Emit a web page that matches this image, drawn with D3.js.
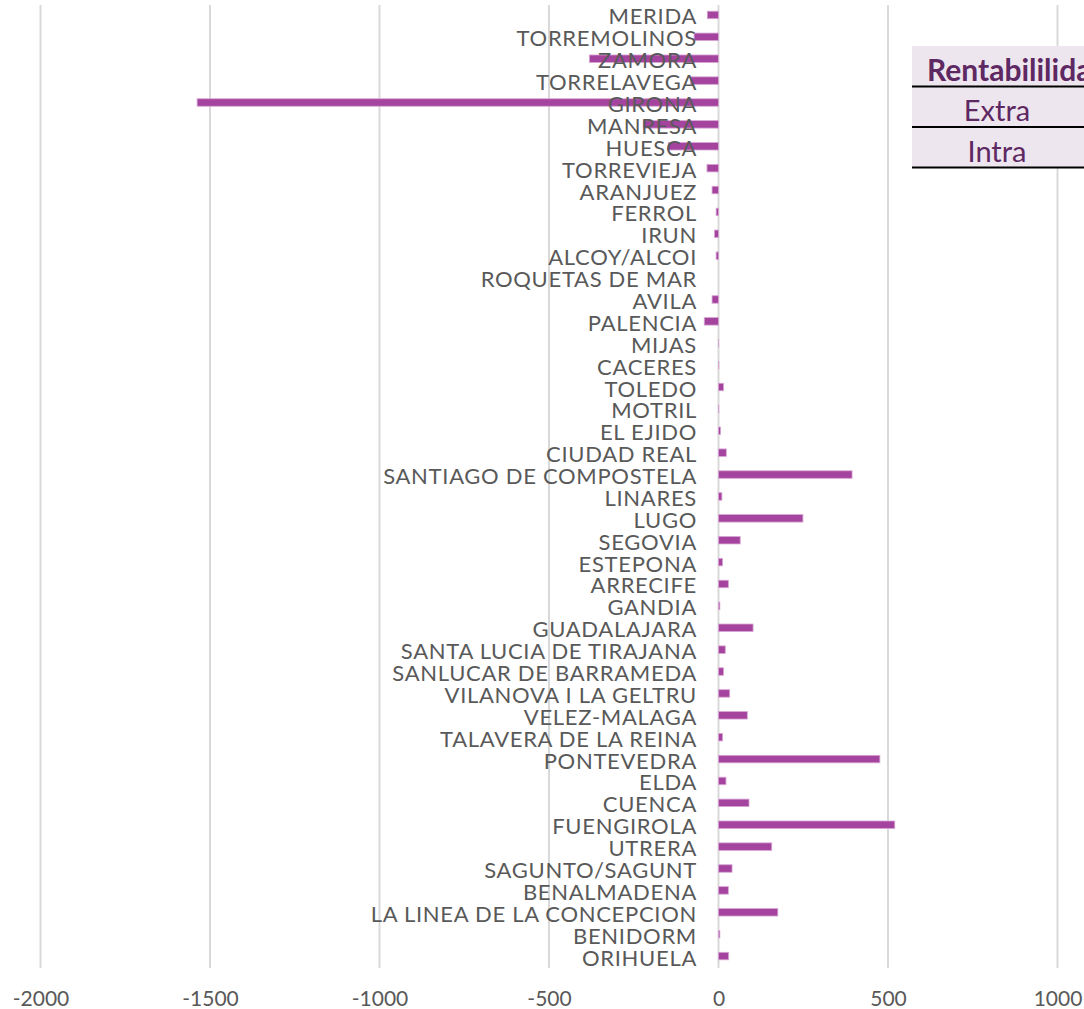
<!DOCTYPE html>
<html>
<head>
<meta charset="utf-8">
<script src="https://cdn.jsdelivr.net/npm/d3@7"></script>
<style>
  html, body { margin: 0; padding: 0; background: #fff; }
  svg { display: block; }
</style>
</head>
<body>
<svg id="chart" width="1084" height="1009"></svg>
<script>
// cities, top to bottom as they appear
const cities = [
  'MERIDA', 'TORREMOLINOS', 'ZAMORA', 'TORRELAVEGA', 'GIRONA', 'MANRESA', 'HUESCA',
  'TORREVIEJA', 'ARANJUEZ', 'FERROL', 'IRUN', 'ALCOY/ALCOI', 'ROQUETAS DE MAR', 'AVILA',
  'PALENCIA', 'MIJAS', 'CACERES', 'TOLEDO', 'MOTRIL', 'EL EJIDO', 'CIUDAD REAL',
  'SANTIAGO DE COMPOSTELA', 'LINARES', 'LUGO', 'SEGOVIA', 'ESTEPONA', 'ARRECIFE', 'GANDIA',
  'GUADALAJARA', 'SANTA LUCIA DE TIRAJANA', 'SANLUCAR DE BARRAMEDA', 'VILANOVA I LA GELTRU',
  'VELEZ-MALAGA', 'TALAVERA DE LA REINA', 'PONTEVEDRA', 'ELDA', 'CUENCA', 'FUENGIROLA',
  'UTRERA', 'SAGUNTO/SAGUNT', 'BENALMADENA', 'LA LINEA DE LA CONCEPCION', 'BENIDORM', 'ORIHUELA'
];

const values = [
  -33, -72, -381, -82, -1538, -222, -148,
  -34, -19, -7, -12, -7, 0, -19,
  -42, 0.5, 1, 15, 1, 6, 23,
  394, 10, 249, 64, 12, 29, 4,
  102, 20, 15, 33,
  85, 12, 476, 22, 90, 520,
  157, 40, 29, 175, 4, 30
];

const xTicks = [-2000, -1500, -1000, -500, 0, 500, 1000];

const legendTitle = 'Rentabililidad';
const legendRows = ['Extra', 'Intra'];

const FONT = 'Lato, "Open Sans", sans-serif';
const BAR = '#a5449f';

const svg = d3.select('#chart');

const plot = { top: 5, bottom: 968 };

const x = d3.scaleLinear()
  .domain([-2000, 1000])
  .range([40.5, 1057.5]);

const y = d3.scalePoint()
  .domain(cities)
  .range([plot.top, plot.bottom])
  .padding(0.5);

const barH = 7.5;

// gridlines
svg.append('g')
  .selectAll('line')
  .data(xTicks)
  .join('line')
  .attr('x1', d => x(d))
  .attr('x2', d => x(d))
  .attr('y1', plot.top)
  .attr('y2', plot.bottom)
  .attr('stroke', '#d9d9d9')
  .attr('stroke-width', 2);

// bars
svg.append('g')
  .selectAll('rect')
  .data(cities.map((c, i) => ({ city: c, value: values[i] })))
  .join('rect')
  .attr('x', d => x(Math.min(0, d.value)))
  .attr('y', d => y(d.city) - 1 - barH / 2)
  .attr('width', d => Math.abs(x(d.value) - x(0)))
  .attr('height', barH)
  .attr('fill', BAR)
  .attr('stroke', '#d8a6d4')
  .attr('stroke-width', 0.8);

// category labels, drawn over the bars
svg.append('g')
  .selectAll('text')
  .data(cities)
  .join('text')
  .attr('x', 697)
  .attr('y', d => y(d))
  .attr('text-anchor', 'end')
  .attr('dominant-baseline', 'central')
  .attr('font-family', FONT)
  .attr('font-size', 22)
  .attr('letter-spacing', 0.7)
  .attr('fill', '#595959')
  .text(d => d);

// x axis tick labels
const axis = d3.axisBottom(x).tickValues(xTicks).tickSize(0).tickPadding(0).tickFormat(d => String(d));
const gAxis = svg.append('g')
  .attr('transform', 'translate(0,991)')
  .call(axis);
gAxis.select('.domain').remove();
gAxis.selectAll('text')
  .attr('font-family', FONT)
  .attr('font-size', 21)
  .attr('fill', '#595959');

// legend table (runs off the right edge)
const lg = svg.append('g');
lg.append('rect')
  .attr('x', 912)
  .attr('y', 46)
  .attr('width', 200)
  .attr('height', 122)
  .attr('fill', '#ede6ee');

lg.append('text')
  .attr('x', 927)
  .attr('y', 81)
  .attr('font-family', FONT)
  .attr('font-weight', 'bold')
  .attr('font-size', 30)
  .attr('fill', '#5e2862')
  .text(legendTitle);

lg.selectAll('text.row')
  .data(legendRows)
  .join('text')
  .attr('class', 'row')
  .attr('x', 997)
  .attr('y', (d, i) => 121 + i * 40.5)
  .attr('text-anchor', 'middle')
  .attr('font-family', FONT)
  .attr('font-size', 29)
  .attr('fill', '#5e2862')
  .text(d => d);

lg.selectAll('line')
  .data([86.5, 127, 167.5])
  .join('line')
  .attr('x1', 912)
  .attr('x2', 1084)
  .attr('y1', d => d)
  .attr('y2', d => d)
  .attr('stroke', '#000')
  .attr('stroke-width', 2);
</script>
</body>
</html>
